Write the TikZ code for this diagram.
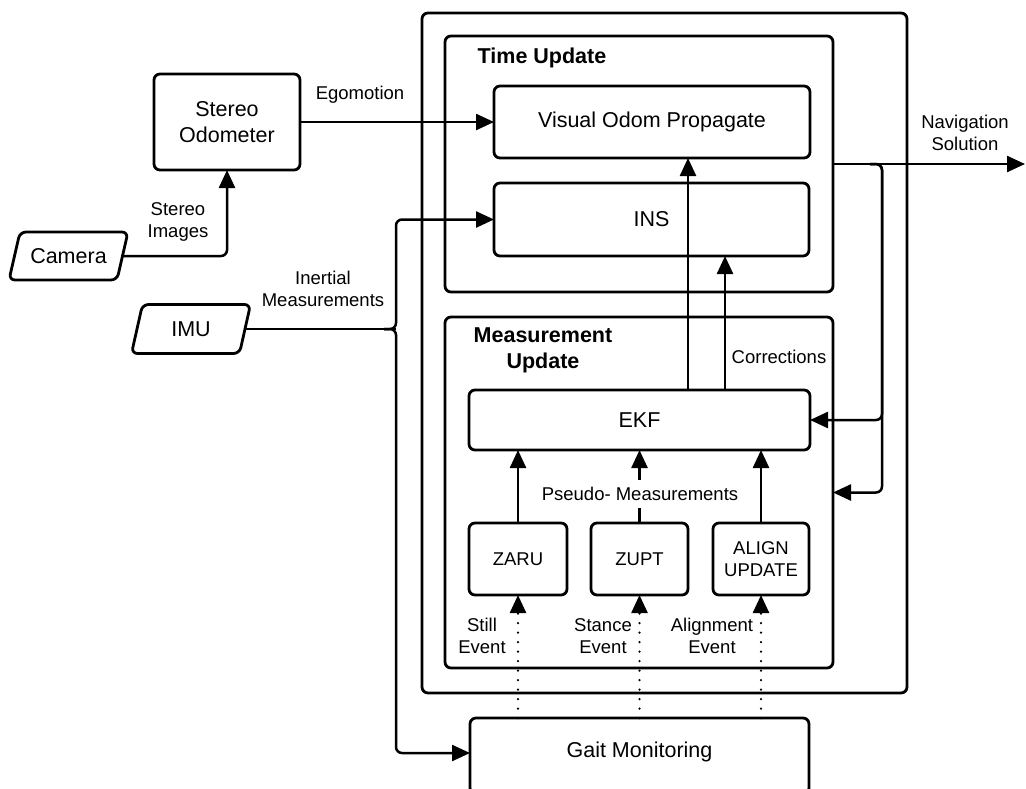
\documentclass[tikz,border=0pt]{standalone}
\usepackage{fontspec}
\setmainfont{Liberation Sans}
\usetikzlibrary{arrows.meta,calc}
\newcommand\bigtxt{\fontsize{21.5}{26}\selectfont}
\newcommand\smalltxt{\fontsize{18.5}{22}\selectfont}
\begin{document}
\begin{tikzpicture}[x=1pt,y=-1pt,
  box/.style={draw, line width=2.8pt, rounded corners=6pt, inner sep=0pt, outer sep=0pt, align=center, font=\bigtxt},
  sbox/.style={font=\smalltxt},
  para/.style={inner sep=0pt, outer sep=0pt, font=\bigtxt},
  boxline/.style={line width=2.8pt, rounded corners=6pt},
  plain/.style={line width=2.5pt},
  conn/.style={line width=2.5pt, -{Triangle[length=18pt,width=16pt]}},
  dotconn/.style={line width=2.5pt, line cap=round, dash pattern=on 0pt off 9.5pt, -{Triangle[length=18pt,width=16pt]}},
  lbl/.style={inner sep=0pt, align=center, font=\smalltxt},
  title/.style={inner sep=0pt, align=center, font=\bigtxt\bfseries}]
\useasboundingbox (0,0) rectangle (1026,788);
% containers
\node[box, minimum width=485, minimum height=680] (outer) at (664.5,353) {};
\node[box, minimum width=388, minimum height=256] (timeupd) at (639,164) {};
\node[box, minimum width=388, minimum height=351] (measupd) at (639,492.5) {};
\node[title] (tut) at (542,58) {Time Update};
\node[title] (mut) at (543,350) {Measurement\\Update};
% blocks
\node[box, minimum width=316, minimum height=72] (vop) at (652,122) {Visual Odom Propagate};
\node[box, minimum width=315, minimum height=73] (ins) at (651.5,219.5) {INS};
\node[box, minimum width=341, minimum height=60] (ekf) at (639.5,420) {EKF};
\node[box, sbox, minimum width=98, minimum height=72] (zaru) at (518,559) {ZARU};
\node[box, sbox, minimum width=97, minimum height=72] (zupt) at (639.5,559) {ZUPT};
\node[box, sbox, minimum width=96, minimum height=72] (alignup) at (761,559) {ALIGN\\UPDATE};
\node[box, minimum width=339, minimum height=76] (gait) at (639.5,756) {};
\node[para, font=\bigtxt] (gaittxt) at (639.5,752) {Gait Monitoring};
\node[box, minimum width=146, minimum height=96] (stereo) at (227,122) {Stereo\\Odometer};
% parallelograms
\node[para, minimum width=108, minimum height=48] (camera) at (68.5,256) {Camera};
\draw[boxline] ([xshift=5.5pt]camera.north west) -- ([xshift=5.5pt]camera.north east) -- ([xshift=-5.5pt]camera.south east) -- ([xshift=-5.5pt]camera.south west) -- cycle;
\node[para, minimum width=108, minimum height=49] (imu) at (191,329) {IMU};
\draw[boxline] ([xshift=5.5pt]imu.north west) -- ([xshift=5.5pt]imu.north east) -- ([xshift=-5.5pt]imu.south east) -- ([xshift=-5.5pt]imu.south west) -- cycle;
% labels
\node[lbl] (ego) at (360,95) {Egomotion};
\node[lbl] (stimg) at (178,222) {Stereo\\Images};
\node[lbl] (inert) at (323,289) {Inertial\\Measurements};
\node[lbl] (nav) at (965,133) {Navigation\\Solution};
\node[lbl] (corr) at (779,357) {Corrections};
\node[lbl] (still) at (482,636) {Still\\Event};
\node[lbl] (stance) at (603,636) {Stance\\Event};
\node[lbl] (alev) at (712,636) {Alignment\\Event};
% coordinates
\coordinate (jn) at (396,329);
\coordinate (br) at (882,164);
\coordinate (navend) at (1025,164);
\coordinate (cx1) at (688,0);
\coordinate (cx2) at (725,0);
\coordinate (gy) at (0,753);
% connectors
\draw[conn] (stereo.east) -- (vop.west);
\draw[conn, rounded corners=6pt] (camera.east) -| (stereo.south);
\draw[plain] (imu.east) -- (jn);
\draw[conn, rounded corners=6pt] ($(jn)+(-12,0)$) -- (jn) |- (ins.west);
\draw[conn, rounded corners=6pt] ($(jn)+(-12,0)$) -- (jn) |- (gait.west |- gy);
\draw[conn] (timeupd.east) -- (navend);
\draw[conn, rounded corners=6pt] ($(br)+(-12,0)$) -- (br) |- (ekf.east);
\draw[conn, rounded corners=6pt] ($(br)+(-12,0)$) -- (br) |- (measupd.east);
\draw[conn] (ekf.north -| cx1) -- (vop.south -| cx1);
\draw[conn] (ekf.north -| cx2) -- (ins.south -| cx2);
\draw[conn] (zaru.north) -- (zaru.north |- ekf.south);
\draw[conn] (zupt.north) -- (zupt.north |- ekf.south);
\draw[conn] (alignup.north) -- (alignup.north |- ekf.south);
\node[lbl, fill=white, inner ysep=7pt, inner xsep=2pt] (pseudo) at (640,494) {Pseudo- Measurements};
\draw[dotconn] (gait.north -| zaru.south) -- (zaru.south);
\draw[dotconn] (gait.north -| zupt.south) -- (zupt.south);
\draw[dotconn] (gait.north -| alignup.south) -- (alignup.south);
\end{tikzpicture}
\end{document}
